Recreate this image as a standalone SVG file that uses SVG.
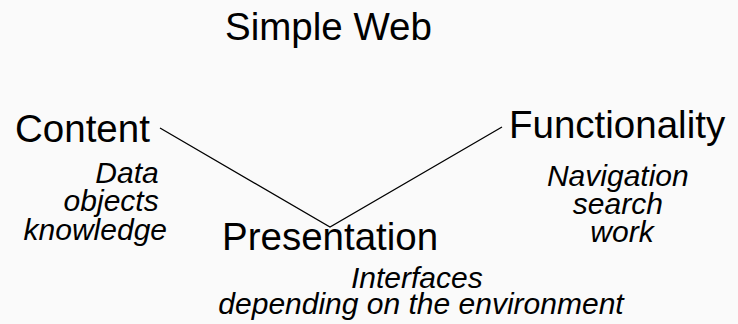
<svg xmlns="http://www.w3.org/2000/svg" width="738" height="324" viewBox="0 0 738 324">
  <style>
    .title { font-family: "Liberation Sans", "DejaVu Sans", sans-serif; font-size: 38.5px; fill: #000; }
    .node  { font-family: "Liberation Sans", "DejaVu Sans", sans-serif; font-size: 38.5px; fill: #000; }
    .note  { font-family: "Liberation Sans", "DejaVu Sans", sans-serif; font-size: 30px; font-style: italic; fill: #000; }
    .edge  { fill: none; stroke: #000; stroke-width: 1.3; }
  </style>
  <rect width="738" height="324" fill="#fafafa"/>

  <text class="title" x="225" y="40">Simple Web</text>

  <g id="connectors">
    <path class="edge" d="M160,128 L330,227 L502,127"/>
  </g>

  <g id="content">
    <text class="node" x="15" y="142">Content</text>
    <text class="note" text-anchor="end">
      <tspan x="167" y="183">Data</tspan>
      <tspan x="167" y="211">objects</tspan>
      <tspan x="167" y="240">knowledge</tspan>
    </text>
  </g>

  <g id="functionality">
    <text class="node" x="509" y="138">Functionality</text>
    <text class="note" text-anchor="middle">
      <tspan x="622" y="186">Navigation</tspan>
      <tspan x="622" y="214">search</tspan>
      <tspan x="622" y="242">work</tspan>
    </text>
  </g>

  <g id="presentation">
    <text class="node" x="222" y="250">Presentation</text>
    <text class="note" text-anchor="middle">
      <tspan x="421" y="288">Interfaces</tspan>
      <tspan x="421" y="314">depending on the environment</tspan>
    </text>
  </g>
</svg>
